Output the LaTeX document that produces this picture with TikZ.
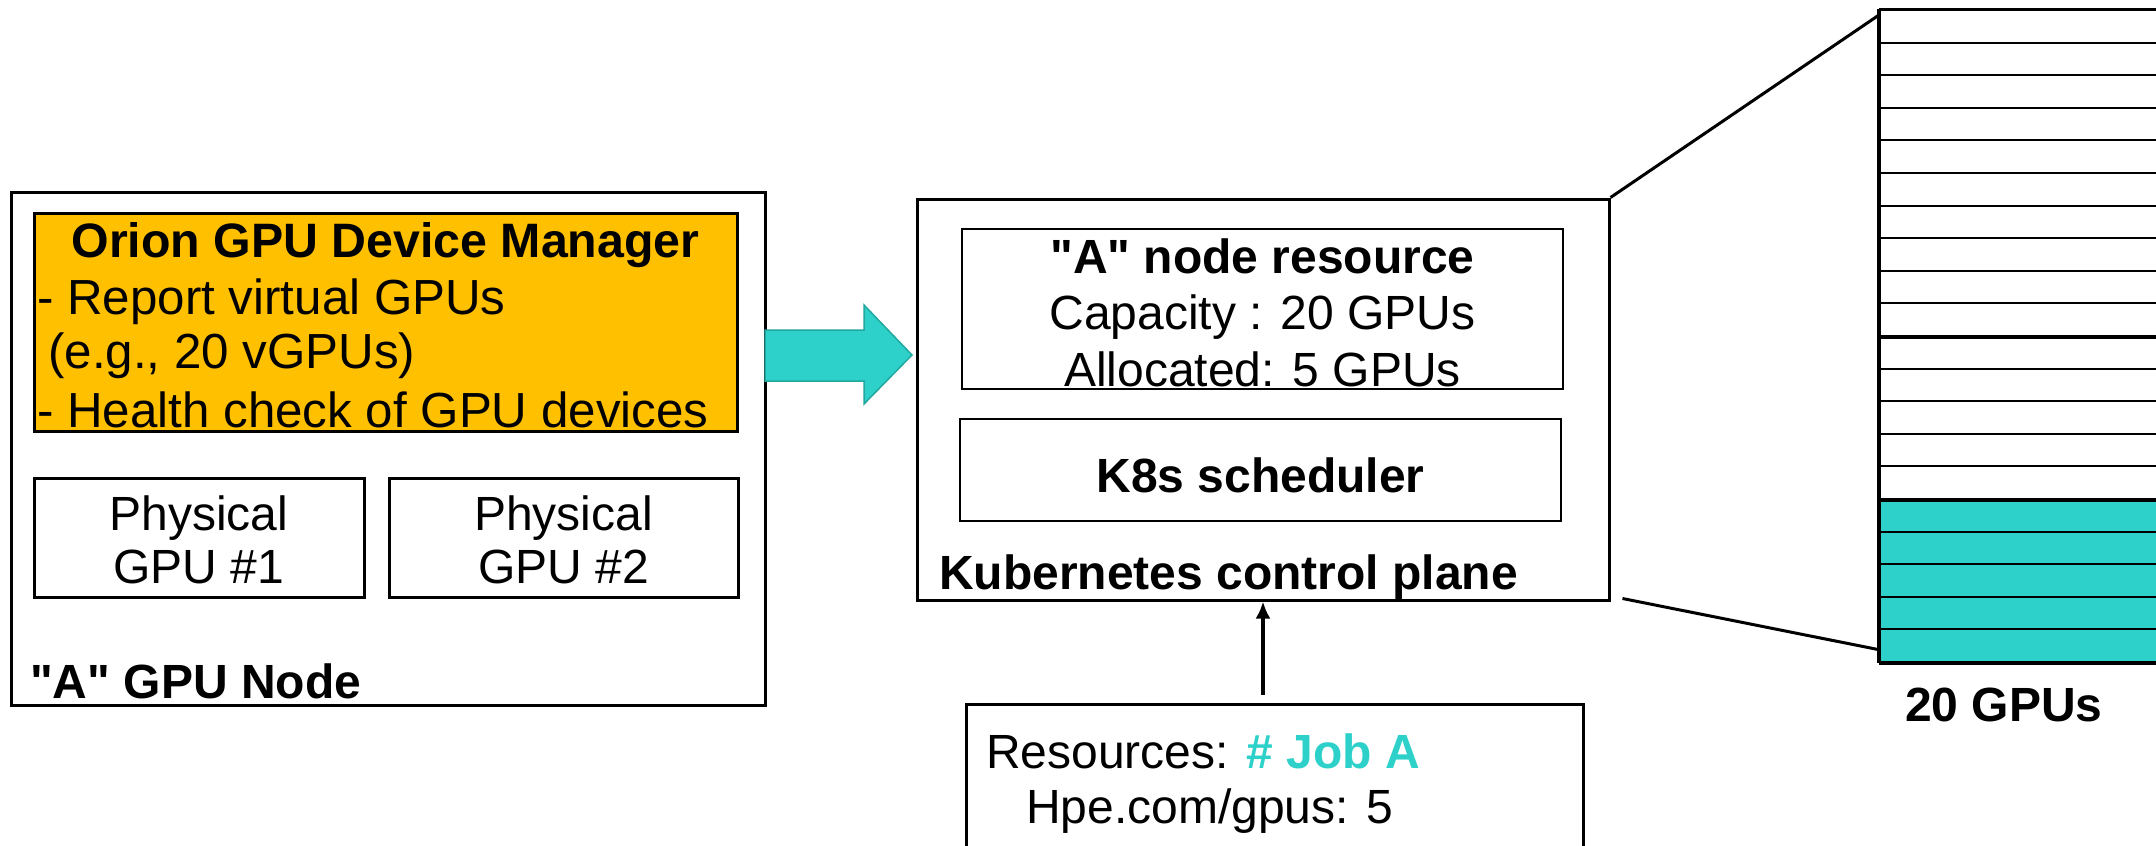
\documentclass[tikz,border=0pt]{standalone}
\usepackage{fontspec}
\setmainfont{Liberation Sans}[Ligatures=TeXOff]
\usetikzlibrary{arrows.meta,calc}
\definecolor{orionfill}{HTML}{FFC000}
\definecolor{tealfill}{HTML}{2DD1C9}
\definecolor{tealedge}{HTML}{22A89F}
\tikzset{
  box/.style={draw=black, line width=3pt, inner sep=0pt, fill=white},
  txt/.style={inner sep=0pt, font=\fontsize{48}{56}\selectfont},
  btxt/.style={inner sep=0pt, font=\fontsize{48}{56}\selectfont\bfseries},
  otxt/.style={inner sep=0pt, font=\fontsize{49.3}{57}\selectfont},
  obtxt/.style={inner sep=0pt, font=\fontsize{48.3}{57}\selectfont\bfseries},
  slot/.style={draw=black, line width=2pt, inner sep=0pt, minimum width=340, minimum height=32.6},
}
\begin{document}
\begin{tikzpicture}[x=1pt,y=-1pt]
\clip (0,0) rectangle (2156,846);
\fill[white] (0,0) rectangle (2156,846);

% left GPU node
\node[box, minimum width=754, minimum height=513] (gpunode) at (388,448.5) {};
\node[box, fill=orionfill, minimum width=703, minimum height=218] (orion) at (385.5,322) {};
\node[obtxt, anchor=base] (oriont) at (385.5,257) {Orion GPU Device Manager};
\node[otxt, anchor=base west] (orl1) at (37,314) {- Report virtual GPUs};
\node[otxt, anchor=base west] (orl2) at (48,368) {(e.g., 20 vGPUs)};
\node[otxt, anchor=base west] (orl3) at (37,427) {- Health check of GPU devices};
\node[box, minimum width=330, minimum height=119] (phys1) at (199,537.5) {};
\node[box, minimum width=349, minimum height=119] (phys2) at (563.5,537.5) {};
\node[txt, anchor=base] (p1a) at (phys1.center |- 0,530) {Physical};
\node[txt, anchor=base] (p1b) at (phys1.center |- 0,583) {GPU \#1};
\node[txt, anchor=base] (p2a) at (phys2.center |- 0,530) {Physical};
\node[txt, anchor=base] (p2b) at (phys2.center |- 0,583) {GPU \#2};
\node[btxt, anchor=base west] (gpulabel) at (30,698) {"A" GPU Node};

% teal arrow
\draw[fill=tealfill, draw=tealedge, line width=1.5pt]
  (765,330) -- (864,330) -- (864,305) -- (912,355) -- (864,404) -- (864,381) -- (765,381) -- cycle;

% control plane
\node[box, minimum width=692, minimum height=401] (ctrl) at (1263,399.5) {};
\node[box, line width=2.5pt, minimum width=601, minimum height=160] (res) at (1262.5,309) {};
\node[btxt, anchor=base] (rest) at (res.center |- 0,273) {"A" node resource};
\node[txt, anchor=base] (resc) at (res.center |- 0,329) {Capacity : 20 GPUs};
\node[txt, anchor=base] (resa) at (res.center |- 0,386) {Allocated: 5 GPUs};
\node[box, line width=2.5pt, minimum width=601, minimum height=102] (sched) at (1260.5,470) {};
\node[btxt, anchor=base] (schedt) at (sched.center |- 0,492) {K8s scheduler};
\node[btxt, anchor=base west] (ctrllabel) at (939,589) {Kubernetes control plane};

% job
\node[box, minimum width=617, minimum height=200, anchor=north] (job) at (1274.5,703) {};
\node[txt, anchor=base west] (job1) at (986,768) {Resources: {\bfseries\color{tealfill}\# Job A}};
\node[txt, anchor=base west] (job2) at (1026,823) {Hpe.com/gpus: 5};
\draw[line width=3.5pt, -{Latex[length=17pt,width=15pt]}]
  ($(job.north -| ctrl.south)+(0,-8)$) -- (ctrl.south);

% GPU stack
\foreach \i in {1,...,15} {
  \node[slot, fill=white] (r\i) at (2050,{10+32.6*(\i-0.5)}) {};
}
\foreach \i in {16,...,20} {
  \node[slot, fill=tealfill] (r\i) at (2050,{10+32.6*(\i-0.5)}) {};
}
\draw[line width=4pt] (r10.south west) -- (r10.south east);
\draw[line width=3.5pt] (r15.south west) -- (r15.south east);
\draw[line width=3.5pt] (r1.north west) -- (r20.south west);
\draw[line width=3pt] (r1.north west) -- (r1.north east);
\draw[line width=3pt] (r20.south west) -- (r20.south east);
\node[btxt, anchor=base] (gpucount) at (2004,721) {20 GPUs};

% projection lines
\coordinate (ptop) at ($(r1.north west)+(0,6)$);
\coordinate (pbot) at ($(r20.west)+(0,4)$);
\draw[line width=3pt] (ctrl.north east) -- (ptop);
\draw[line width=3pt] ($(ctrl.south east)+(12,-3)$) -- (pbot);
\end{tikzpicture}
\end{document}
